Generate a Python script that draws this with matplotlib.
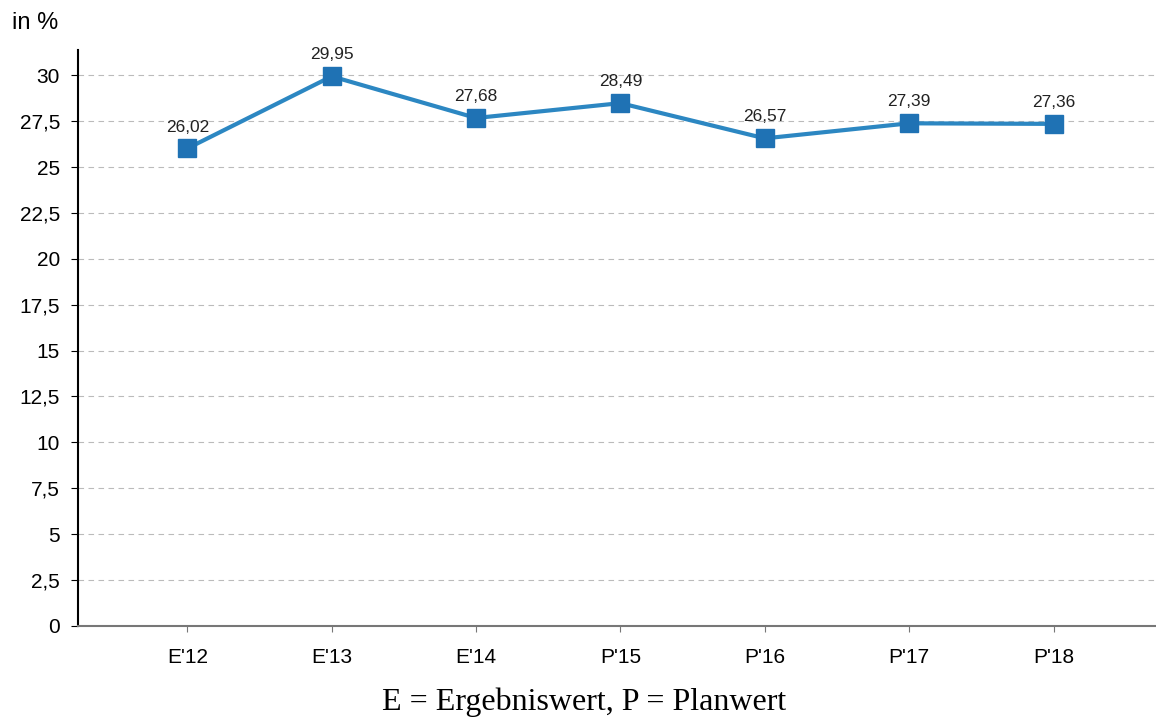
import matplotlib.pyplot as plt
import numpy as np

labels = ["E'12", "E'13", "E'14", "P'15", "P'16", "P'17", "P'18"]
values = [26.02, 29.95, 27.68, 28.49, 26.57, 27.39, 27.36]
yticks = np.arange(0, 30.1, 2.5)

plt.rcParams['font.family'] = ['Liberation Sans', 'DejaVu Sans']

fig = plt.figure(figsize=(11.56, 7.21), dpi=100)
ax = fig.add_axes([0.0675, 0.132, 0.935, 0.799])

x = np.arange(len(labels))
ax.plot(x, values, color='#2c87c2', lw=3, marker='s', ms=13,
        mfc='#1f72b4', mec='#1f72b4', zorder=3)
for xi, v in zip(x, values):
    ax.annotate(f"{v:.2f}".replace('.', ','), (xi, v), xytext=(0, 10),
                textcoords='offset points', ha='center', va='bottom',
                fontsize=12.5, color='#222222')

ax.set_xlim(-0.757, 6.73)
ax.set_ylim(0, 31.4)
ax.set_xticks(x)
ax.set_xticklabels(labels, fontsize=15)
ax.set_yticks(yticks)
ax.set_yticklabels([f"{t:g}".replace('.', ',') for t in yticks], fontsize=15)
ax.yaxis.grid(True, ls=(0, (5, 4)), color='#bbbbbb', lw=0.8)
ax.set_axisbelow(True)
ax.spines['top'].set_visible(False)
ax.spines['right'].set_visible(False)
ax.spines['left'].set_linewidth(1.5)
ax.spines['bottom'].set_color('#777777')
ax.spines['bottom'].set_linewidth(1.5)
ax.tick_params(axis='x', length=4, pad=12, color='#777777')
ax.tick_params(axis='y', length=5, pad=8)

fig.text(0.01, 0.968, "in %", fontsize=17, ha='left', va='center')
fig.text(0.505, 0.026, "E = Ergebniswert, P = Planwert", fontsize=23,
         family='Liberation Serif', ha='center', va='center')

fig.savefig('out.png', dpi=100)
